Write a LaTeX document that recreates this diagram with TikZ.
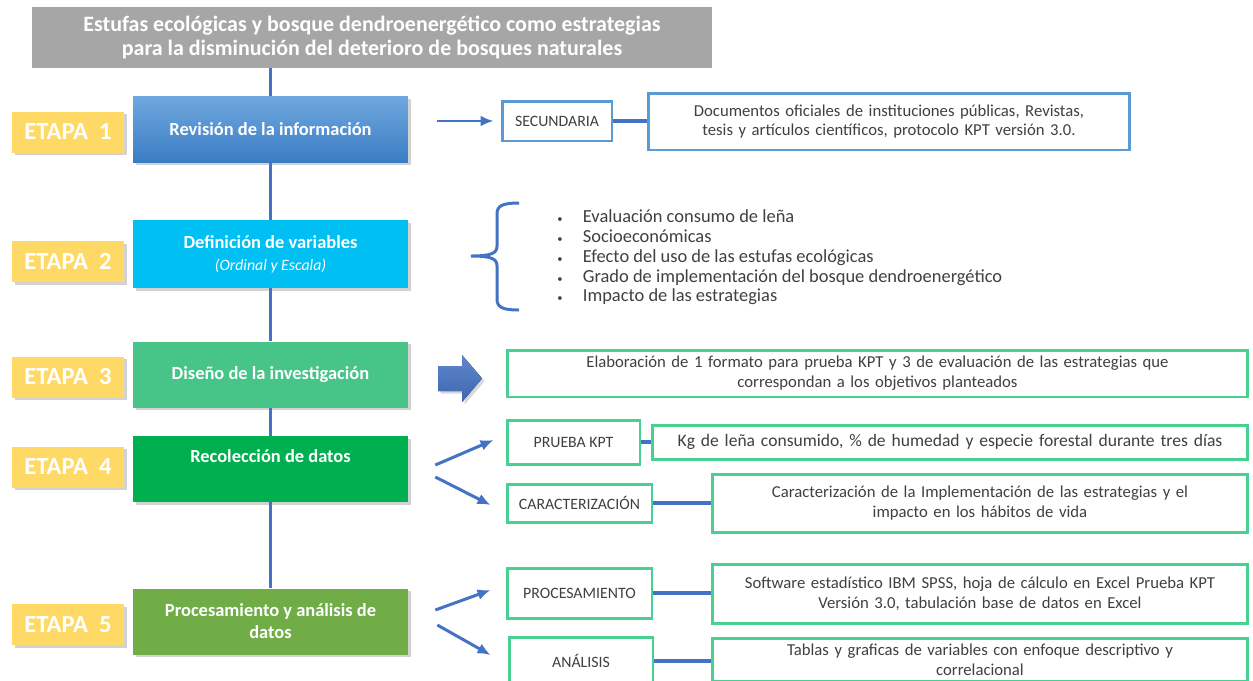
\documentclass[tikz,border=0pt]{standalone}
\usepackage{fontspec}
\setmainfont{Carlito}
\usetikzlibrary{arrows, arrows.meta, shapes, positioning, shadows}

\definecolor{lineblue}{RGB}{68,114,196}
\definecolor{tagblue}{RGB}{91,155,213}
\definecolor{boxgreen}{RGB}{72,208,144}
\definecolor{etapay}{RGB}{255,217,102}
\definecolor{titlegray}{RGB}{166,166,166}
\definecolor{txtgray}{RGB}{64,64,64}
\definecolor{stAtop}{RGB}{111,168,222}
\definecolor{stAbot}{RGB}{58,124,196}
\definecolor{stB}{RGB}{0,192,243}
\definecolor{stC}{RGB}{71,196,136}
\definecolor{stD}{RGB}{0,176,80}
\definecolor{stE}{RGB}{112,173,71}

\newcommand{\vbul}{{\fontsize{6}{6}\selectfont\textbullet}\hspace{1.1em}}

\begin{document}
\begin{tikzpicture}[x=0.02cm, y=-0.02cm,
                    etapa/.style={rectangle, fill=etapay, text=white,
                      minimum width=2.24cm, minimum height=0.82cm,
                      font=\bfseries\fontsize{14}{16}\selectfont,
                      drop shadow={shadow xshift=1.5pt, shadow yshift=-1.5pt, opacity=0.35}},
                    stage/.style={rectangle, text=white, align=center,
                      minimum width=5.5cm, minimum height=1.32cm,
                      font=\bfseries\fontsize{10.5}{12.5}\selectfont,
                      drop shadow={shadow xshift=1.5pt, shadow yshift=-1.5pt, opacity=0.35}},
                    tag/.style={rectangle, draw=boxgreen, fill=white, line width=1.7pt,
                      text=txtgray, inner sep=2pt,
                      font=\fontsize{9}{11}\selectfont},
                    info/.style={tag, align=center,
                      font=\fontsize{9.5}{11.3}\selectfont},
                    vline/.style={draw=lineblue, line width=1.7pt},
                    link/.style={draw=lineblue, line width=2.5pt},
                    arr/.style={-{Latex[length=2.6mm, width=2.2mm]}, draw=lineblue, line width=1.7pt}]

  \useasboundingbox (0,0) rectangle (1253,680);
  \clip (0,0) rectangle (1253,680);
  \fill[white] (0,0) rectangle (1253,680);

  % title
  \node[rectangle, fill=titlegray, text=white, align=center,
        minimum width=13.6cm, minimum height=1.22cm,
        font=\bfseries\fontsize{12.5}{14}\selectfont] (title) at (372,37.5)
    {Estufas ecológicas y bosque dendroenergético como estrategias\\
     para la disminución del deterioro de bosques naturales};

  % stages
  \node[stage, top color=stAtop, bottom color=stAbot] (s1) at (270.5,129.5)
    {Revisión de la información};
  \node[stage, fill=stB, minimum height=1.36cm] (s2) at (270.5,254)
    {Definición de variables\\
     {\mdseries\itshape\fontsize{9}{11}\selectfont (Ordinal y Escala)}};
  \node[stage, fill=stC] (s3) at (270.5,374.5) {Diseño de la investigación};
  \node[stage, fill=stD, text depth=0.5cm] (s4) at (270.5,469)
    {Recolección de datos};
  \node[stage, fill=stE] (s5) at (270.5,621.5)
    {Procesamiento y análisis de\\datos};

  \node[etapa] (e1) at (68,132) {ETAPA~ 1};
  \node[etapa] (e2) at (68,261.5) {ETAPA~ 2};
  \node[etapa] (e3) at (68,377) {ETAPA~ 3};
  \node[etapa] (e4) at (68,467) {ETAPA~ 4};
  \node[etapa] (e5) at (68,624.5) {ETAPA~ 5};

  % spine
  \path[vline] (s1.north |- title.south) -- (s1.north)
               (s1.south) -- (s2.north)
               (s2.south) -- (s3.north)
               (s3.south) -- (s4.north)
               (s4.south) -- (s5.north);

  % etapa 1
  \node[tag, draw=tagblue, minimum width=2.2cm, minimum height=0.8cm] (sec) at (557,121)
    {SECUNDARIA};
  \node[info, draw=tagblue, text width=9.5cm, minimum height=1.14cm] (doc) at (889,121.5)
    {Documentos oficiales de instituciones\ públicas, Revistas,\\
     tesis y artículos científicos, protocolo KPT versión 3.0.};
  \draw[arr] ([xshift=0.58cm]s1.east |- sec.west) -- ([xshift=-0.14cm]sec.west);
  \path[link] (sec.east) -- (sec.east -| doc.west);

  % etapa 2
  \draw[lineblue, line width=1.7pt]
    (519,203) .. controls (502,203) and (497,206) .. (497,214) -- (497,246)
    .. controls (497,253) and (492,256) .. (471,256)
    .. controls (492,256) and (497,259) .. (497,266) -- (497,299)
    .. controls (497,307) and (502,310) .. (519,310);
  \node[anchor=west, align=left, inner sep=0pt, text=txtgray,
        font=\fontsize{10.5}{11.2}\selectfont] (vars) at (557,257.5)
    {\vbul Evaluación consumo de leña\\
     \vbul Socioeconómicas\\
     \vbul Efecto del uso de las estufas ecológicas\\
     \vbul Grado de implementación del bosque dendroenergético\\
     \vbul Impacto de las estrategias};

  % etapa 3
  \fill[top color=lineblue!85, bottom color=lineblue!90!black,
        drop shadow={shadow xshift=1.5pt, shadow yshift=-1.5pt, opacity=0.3}]
    (438,366) -- (462,366) -- (462,355) -- (482,378.5)
    -- (462,402) -- (462,391) -- (438,391) -- cycle;
  \node[info, text width=14.68cm, minimum height=0.94cm] (elab) at (877.5,373.5)
    {Elaboración de 1 formato para prueba KPT y 3 de evaluación de las estrategias que\\
     correspondan a los objetivos planteados};

  % etapa 4
  \node[tag, minimum width=2.66cm, minimum height=0.88cm] (pk) at (573.5,442) {PRUEBA KPT};
  \node[info, text width=11.78cm, minimum height=0.68cm,
        font=\fontsize{10}{12}\selectfont] (kg) at (950,442)
    {Kg de leña consumido, \% de humedad y especie forestal durante tres días};
  \node[tag, minimum width=2.9cm, minimum height=0.76cm] (car) at (579.5,503)
    {CARACTERIZACIÓN};
  \node[info, text width=10.58cm, minimum height=1.16cm] (carinfo) at (980,503)
    {Caracterización de la Implementación de las estrategias\ y el\\
     impacto en los hábitos de vida};
  \draw[arr] ([xshift=0.54cm, yshift=0.08cm]s4.east) -- ([xshift=-0.24cm, yshift=0.04cm]pk.west);
  \draw[arr] ([xshift=0.54cm, yshift=-0.16cm]s4.east) -- ([xshift=-0.3cm, yshift=-0.04cm]car.west);
  \path[link] (pk.east) -- (pk.east -| kg.west)
              (car.east) -- (car.east -| carinfo.west);

  % etapa 5
  \node[tag, minimum width=2.9cm, minimum height=1.0cm] (proc) at (579.5,593)
    {PROCESAMIENTO};
  \node[info, text width=10.58cm, minimum height=1.18cm] (soft) at (980,593.5)
    {Software estadístico IBM SPSS, hoja de cálculo en Excel Prueba KPT\\
     Versión 3.0, tabulación base de datos en Excel};
  \node[tag, minimum width=2.88cm, minimum height=0.96cm] (ana) at (581,661)
    {ANÁLISIS};
  \node[info, text width=10.58cm, minimum height=0.86cm, anchor=north] (tab) at (980,637)
    {Tablas y graficas de variables con enfoque descriptivo y\\
     correlacional};
  \draw[arr] ([xshift=0.54cm, yshift=0.23cm]s5.east) -- ([xshift=-0.3cm, yshift=0.06cm]proc.west);
  \draw[arr] ([xshift=0.58cm, yshift=-0.07cm]s5.east) -- ([xshift=-0.34cm, yshift=0.12cm]ana.west);
  \path[link] (proc.east) -- (proc.east -| soft.west)
              (ana.east) -- (ana.east -| tab.west);
\end{tikzpicture}
\end{document}
